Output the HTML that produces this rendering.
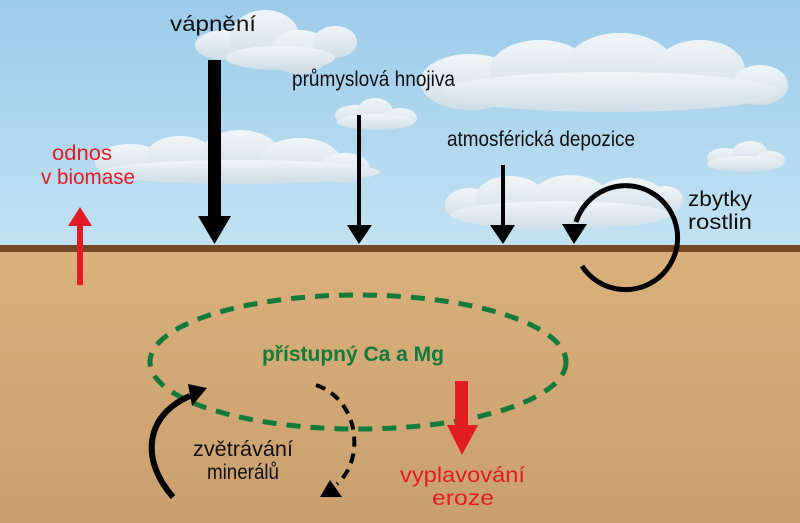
<!DOCTYPE html>
<html><head><meta charset="utf-8"><style>
html,body{margin:0;padding:0;}
svg{display:block;}
text{font-family:"Liberation Sans",sans-serif;}
</style></head><body>
<svg width="800" height="523" viewBox="0 0 800 523" xmlns="http://www.w3.org/2000/svg">
<defs>
<linearGradient id="sky" x1="0" y1="0" x2="0" y2="1"><stop offset="0" stop-color="#9ccbea"/><stop offset="1" stop-color="#c2e2f2"/></linearGradient>
<linearGradient id="soil" x1="0" y1="0" x2="0" y2="1"><stop offset="0" stop-color="#dab17c"/><stop offset="1" stop-color="#c89f6e"/></linearGradient>
<linearGradient id="cl" x1="0" y1="0" x2="0" y2="1"><stop offset="0" stop-color="#f0f5f7"/><stop offset="1" stop-color="#cfdde6"/></linearGradient>
</defs>
<rect width="800" height="248" fill="url(#sky)"/>
<rect y="248" width="800" height="275" fill="url(#soil)"/>
<rect y="245" width="800" height="7" fill="#74492a"/>
<g fill="url(#cl)">
<ellipse cx="225" cy="45" rx="30" ry="15"/><ellipse cx="265" cy="38" rx="35" ry="28"/><ellipse cx="300" cy="52" rx="30" ry="22"/><ellipse cx="335" cy="42" rx="22" ry="16"/><ellipse cx="280" cy="58" rx="55" ry="12"/>
<ellipse cx="470" cy="82" rx="50" ry="28"/><ellipse cx="540" cy="70" rx="50" ry="30"/><ellipse cx="620" cy="68" rx="55" ry="35"/><ellipse cx="700" cy="70" rx="45" ry="30"/><ellipse cx="760" cy="85" rx="28" ry="20"/><ellipse cx="610" cy="92" rx="170" ry="20"/>
<ellipse cx="355" cy="115" rx="20" ry="10"/><ellipse cx="375" cy="112" rx="18" ry="14"/><ellipse cx="400" cy="118" rx="17" ry="10"/><ellipse cx="375" cy="122" rx="38" ry="8"/>
<ellipse cx="130" cy="162" rx="35" ry="18"/><ellipse cx="180" cy="158" rx="35" ry="22"/><ellipse cx="240" cy="155" rx="40" ry="25"/><ellipse cx="300" cy="160" rx="40" ry="22"/><ellipse cx="345" cy="168" rx="25" ry="15"/><ellipse cx="240" cy="172" rx="140" ry="12"/>
<ellipse cx="725" cy="158" rx="18" ry="10"/><ellipse cx="750" cy="153" rx="18" ry="12"/><ellipse cx="770" cy="160" rx="15" ry="9"/><ellipse cx="745" cy="164" rx="38" ry="8"/>
<ellipse cx="470" cy="205" rx="25" ry="17"/><ellipse cx="510" cy="198" rx="35" ry="22"/><ellipse cx="570" cy="200" rx="40" ry="25"/><ellipse cx="630" cy="198" rx="35" ry="20"/><ellipse cx="665" cy="200" rx="18" ry="14"/><ellipse cx="560" cy="215" rx="110" ry="14"/>
</g>
<rect x="208" y="60" width="13" height="158" fill="#000"/><polygon points="198,216 231,216 214.5,244" fill="#000"/>
<rect x="357" y="115" width="4" height="112" fill="#000"/><polygon points="347,225 372,225 359,244" fill="#000"/>
<rect x="501" y="165" width="4" height="62" fill="#000"/><polygon points="490,225 515,225 503,244" fill="#000"/>
<path d="M582,266 A52,52 0 1 0 576,222" fill="none" stroke="#000" stroke-width="5"/>
<polygon points="562,224 587,224 574,244" fill="#000"/>
<rect x="77" y="224" width="6" height="61" fill="#e31b23"/><polygon points="68,226 92,226 80,207" fill="#e31b23"/>
<ellipse cx="358" cy="362" rx="208" ry="67" fill="none" stroke="#137a3a" stroke-width="5" stroke-dasharray="14,10"/>
<rect x="455" y="381" width="13" height="46" fill="#e31b23"/><polygon points="447,425 478,425 462,455" fill="#e31b23"/>
<path d="M173,497 C140,460 145,415 190,396" fill="none" stroke="#000" stroke-width="6"/>
<polygon points="207,388 188,384 192,406" fill="#000"/>
<path d="M316,385 C360,400 365,460 337,484" fill="none" stroke="#000" stroke-width="4" stroke-dasharray="10,7"/>
<polygon points="320,497 342,497 330,480" fill="#000"/>
<g font-size="21" fill="#111">
<text x="170" y="31" textLength="86" lengthAdjust="spacingAndGlyphs">vápnění</text>
<text x="292" y="86" textLength="163" lengthAdjust="spacingAndGlyphs">průmyslová hnojiva</text>
<text x="447" y="146" textLength="188" lengthAdjust="spacingAndGlyphs">atmosférická depozice</text>
<text x="688" y="206" textLength="64" lengthAdjust="spacingAndGlyphs">zbytky</text>
<text x="688" y="229" textLength="64" lengthAdjust="spacingAndGlyphs">rostlin</text>
<text x="193" y="456" textLength="100" lengthAdjust="spacingAndGlyphs">zvětrávání</text>
<text x="207" y="479" textLength="72" lengthAdjust="spacingAndGlyphs">minerálů</text>
</g>
<g font-size="21" fill="#e31b23">
<text x="52" y="160" textLength="60" lengthAdjust="spacingAndGlyphs">odnos</text>
<text x="41" y="184" textLength="94" lengthAdjust="spacingAndGlyphs">v biomase</text>
<text x="400" y="482" textLength="125" lengthAdjust="spacingAndGlyphs">vyplavování</text>
<text x="432" y="505" textLength="62" lengthAdjust="spacingAndGlyphs">eroze</text>
</g>
<text x="353" y="361" font-size="21" font-weight="bold" fill="#137a3a" text-anchor="middle">přístupný Ca a Mg</text>
</svg>
</body></html>
